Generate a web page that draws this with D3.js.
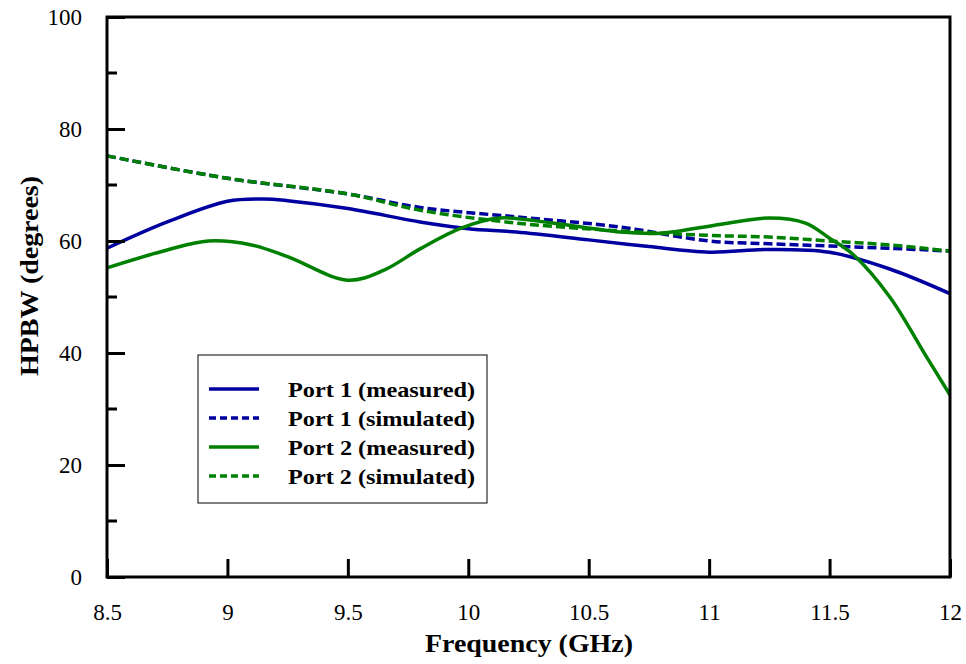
<!DOCTYPE html>
<html>
<head>
<meta charset="utf-8">
<script src="https://cdn.jsdelivr.net/npm/d3@7"></script>
<style>
  body { margin: 0; background: #fff; }
  svg text { font-family: "Liberation Serif", "Times New Roman", serif !important; }
</style>
</head>
<body>
<div id="chart"></div>
<script>
// values (frequency in GHz, HPBW in degrees)
const p1MeasFreq = [8.5, 8.75, 9.0, 9.15, 9.25, 9.5, 9.8, 10.0, 10.2, 10.5, 10.75, 11.0, 11.25, 11.5, 11.75, 12.0];
const p1MeasVal  = [58.7, 63.4, 67.1, 67.5, 67.2, 65.8, 63.4, 62.2, 61.6, 60.2, 59.0, 58.0, 58.5, 58.0, 55.0, 50.6];

const p1SimFreq = [8.5, 9.0, 9.5, 9.8, 10.2, 10.63, 11.0, 11.25, 11.5, 11.75, 12.0];
const p1SimVal  = [75.2, 71.2, 68.4, 66.0, 64.3, 62.5, 60.0, 59.5, 59.1, 58.7, 58.2];

const p2MeasFreq = [8.5, 8.75, 8.92, 9.1, 9.25, 9.5, 9.65, 9.8, 9.97, 10.13, 10.35, 10.63, 10.8, 11.05, 11.25, 11.4, 11.5, 11.6, 11.75, 11.9, 12.0];
const p2MeasVal  = [55.2, 58.4, 60.0, 59.3, 57.2, 53.0, 54.8, 58.6, 62.3, 64.1, 63.2, 61.6, 61.4, 63.0, 64.1, 63.2, 60.5, 57.5, 50.0, 39.5, 32.5];

const p2SimFreq = [8.5, 9.0, 9.5, 9.8, 10.2, 10.63, 11.0, 11.25, 11.5, 11.75, 12.0];
const p2SimVal  = [75.2, 71.2, 68.4, 65.5, 63.2, 61.8, 61.0, 60.7, 60.0, 59.3, 58.2];

const xTicks = [8.5, 9, 9.5, 10, 10.5, 11, 11.5, 12];
const yTicks = [0, 20, 40, 60, 80, 100];
const yMinorTicks = [10, 30, 50, 70, 90];

const seriesNames = ["Port 1 (measured)", "Port 1 (simulated)", "Port 2 (measured)", "Port 2 (simulated)"];

const blue = "#0000a0";
const green = "#008000";

const width = 966;
const height = 664;
const margin = { left: 107, right: 16, top: 17, bottom: 87 };

const svg = d3.select("#chart")
  .append("svg")
  .attr("width", width)
  .attr("height", height);

const x = d3.scaleLinear()
  .domain([8.5, 12])
  .range([margin.left, width - margin.right]);

const y = d3.scaleLinear()
  .domain([0, 100])
  .range([height - margin.bottom, margin.top]);

// series built from the arrays above
const series = [
  { name: seriesNames[0], color: blue, dash: null, pts: d3.zip(p1MeasFreq, p1MeasVal) },
  { name: seriesNames[1], color: blue, dash: "9,4", pts: d3.zip(p1SimFreq, p1SimVal) },
  { name: seriesNames[2], color: green, dash: null, pts: d3.zip(p2MeasFreq, p2MeasVal) },
  { name: seriesNames[3], color: green, dash: "9,4", pts: d3.zip(p2SimFreq, p2SimVal) }
];

const line = d3.line()
  .x(d => x(d[0]))
  .y(d => y(d[1]))
  .curve(d3.curveCatmullRom.alpha(0.5));

// draw order: simulated under measured, green dashed over blue dashed
[series[1], series[3], series[0], series[2]].forEach(s => {
  svg.append("path")
    .attr("d", line(s.pts))
    .attr("fill", "none")
    .attr("stroke", s.color)
    .attr("stroke-width", 3.5)
    .attr("stroke-dasharray", s.dash);
});

// frame
svg.append("rect")
  .attr("x", x(8.5))
  .attr("y", y(100))
  .attr("width", x(12) - x(8.5))
  .attr("height", y(0) - y(100))
  .attr("fill", "none")
  .attr("stroke", "black")
  .attr("stroke-width", 3);

// bottom axis, ticks pointing inward
const xAxis = svg.append("g")
  .attr("transform", "translate(0," + y(0) + ")")
  .call(d3.axisBottom(x).tickValues(xTicks).tickSize(-18).tickPadding(27)
    .tickFormat(d3.format("")));
xAxis.select(".domain").remove();
xAxis.selectAll("line").attr("stroke-width", 3);
xAxis.selectAll("text")
  .attr("font-size", 23)
  .attr("fill", "black");

// left axis
const yAxis = svg.append("g")
  .attr("transform", "translate(" + x(8.5) + ",0)")
  .call(d3.axisLeft(y).tickValues(yTicks).tickSize(-18).tickPadding(25));
yAxis.select(".domain").remove();
yAxis.selectAll("line").attr("stroke-width", 3);
yAxis.selectAll("text")
  .attr("font-size", 23)
  .attr("fill", "black");

svg.append("g")
  .selectAll("line")
  .data(yMinorTicks)
  .enter()
  .append("line")
  .attr("x1", x(8.5))
  .attr("x2", x(8.5) + 10)
  .attr("y1", d => y(d))
  .attr("y2", d => y(d))
  .attr("stroke", "black")
  .attr("stroke-width", 3);

// axis titles (the figure's type is a bit wider than Times, so stretch to its width)
svg.append("text")
  .attr("x", 529)
  .attr("y", 652)
  .attr("text-anchor", "middle")
  .attr("font-weight", "bold")
  .attr("font-size", 26)
  .attr("textLength", 208)
  .attr("lengthAdjust", "spacingAndGlyphs")
  .text("Frequency (GHz)");

svg.append("text")
  .attr("transform", "translate(38,276) rotate(-90)")
  .attr("text-anchor", "middle")
  .attr("font-weight", "bold")
  .attr("font-size", 26)
  .attr("textLength", 200)
  .attr("lengthAdjust", "spacingAndGlyphs")
  .text("HPBW (degrees)");

// legend
const legend = svg.append("g")
  .attr("transform", "translate(198,355)");

legend.append("rect")
  .attr("width", 289)
  .attr("height", 148)
  .attr("fill", "white")
  .attr("stroke", "black")
  .attr("stroke-width", 1);

const items = legend.selectAll("g.item")
  .data(series)
  .enter()
  .append("g")
  .attr("transform", (d, i) => "translate(0," + (34 + i * 29) + ")");

items.append("line")
  .attr("x1", 11)
  .attr("x2", 61)
  .attr("stroke", d => d.color)
  .attr("stroke-width", 3.5)
  .attr("stroke-dasharray", d => d.dash ? "7,4" : null);

items.append("text")
  .attr("x", 90)
  .attr("dy", "0.35em")
  .attr("font-weight", "bold")
  .attr("font-size", 22)
  .attr("textLength", 187)
  .attr("lengthAdjust", "spacingAndGlyphs")
  .text(d => d.name);
</script>
</body>
</html>
